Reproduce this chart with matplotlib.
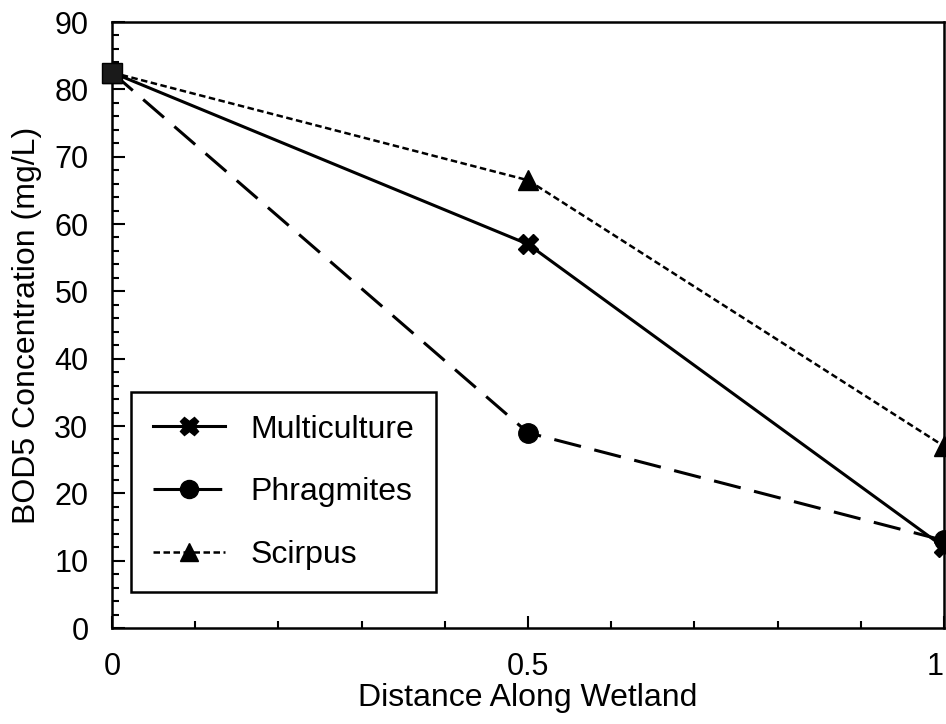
import matplotlib
matplotlib.use("Agg")
import matplotlib.pyplot as plt
from matplotlib.ticker import MultipleLocator

# BOD5 along the wetland for three planted cells
distance = [0.0, 0.5, 1.0]
multiculture = [82.5, 57.0, 12.0]
phragmites = [82.5, 29.0, 13.0]
scirpus = [82.5, 66.5, 27.0]
influent = 82.5
x_ticks = [0.0, 0.5, 1.0]
x_tick_labels = ["0", "0.5", "1"]

plt.rcParams["font.family"] = ["Liberation Sans", "DejaVu Sans"]

fig = plt.figure(figsize=(9.46, 7.24), dpi=100)
ax = fig.add_axes([112 / 946, 1 - 628 / 724, 832 / 946, 606 / 724])

ax.plot(distance, multiculture, color="black", lw=2.2, ls="-",
        marker="X", ms=14, mec="black", mfc="black",
        label="Multiculture", clip_on=False, zorder=4)
ax.plot(distance, phragmites, color="black", lw=2.2, ls=(0, (9, 4.5)),
        marker="o", ms=14, mec="black", mfc="black",
        label="Phragmites", clip_on=False, zorder=4)
ax.plot(distance, scirpus, color="black", lw=1.8, ls=(0, (2.6, 1.4)),
        marker="^", ms=14, mec="black", mfc="black",
        label="Scirpus", clip_on=False, zorder=4)

# shared inlet point
ax.plot([distance[0]], [influent], marker="s", ms=14, mfc="#1a1a1a",
        mec="black", ls="none", clip_on=False, zorder=5)

ax.set_xlim(0, 1)
ax.set_ylim(0, 90)
ax.set_xticks(x_ticks, labels=x_tick_labels)
ax.xaxis.set_minor_locator(MultipleLocator(0.1))
ax.yaxis.set_major_locator(MultipleLocator(10))
ax.yaxis.set_minor_locator(MultipleLocator(2))

ax.tick_params(which="both", direction="in", width=1.5, labelsize=22,
               pad=17)
ax.tick_params(which="major", length=9)
ax.tick_params(which="minor", length=5)
for s in ax.spines.values():
    s.set_linewidth(1.8)
# the "1" would run off the right edge otherwise
ax.get_xticklabels()[-1].set_horizontalalignment("right")

ax.set_xlabel("Distance Along Wetland", fontsize=23)
ax.set_ylabel("BOD5 Concentration (mg/L)", fontsize=23)
ax.xaxis.set_label_coords(0.5, -0.09)
ax.yaxis.set_label_coords(-0.084, 0.5)

leg = ax.legend(loc="upper left", bbox_to_anchor=(0.023, 0.389),
                borderaxespad=0, fontsize=23, handlelength=2.25,
                handletextpad=0.78, labelspacing=1.02, borderpad=0.7,
                fancybox=False, edgecolor="black", framealpha=1)
leg.get_frame().set_linewidth(1.8)
for h in leg.legend_handles:
    h.set_markersize(13)

fig.savefig("out.png", dpi=100)
